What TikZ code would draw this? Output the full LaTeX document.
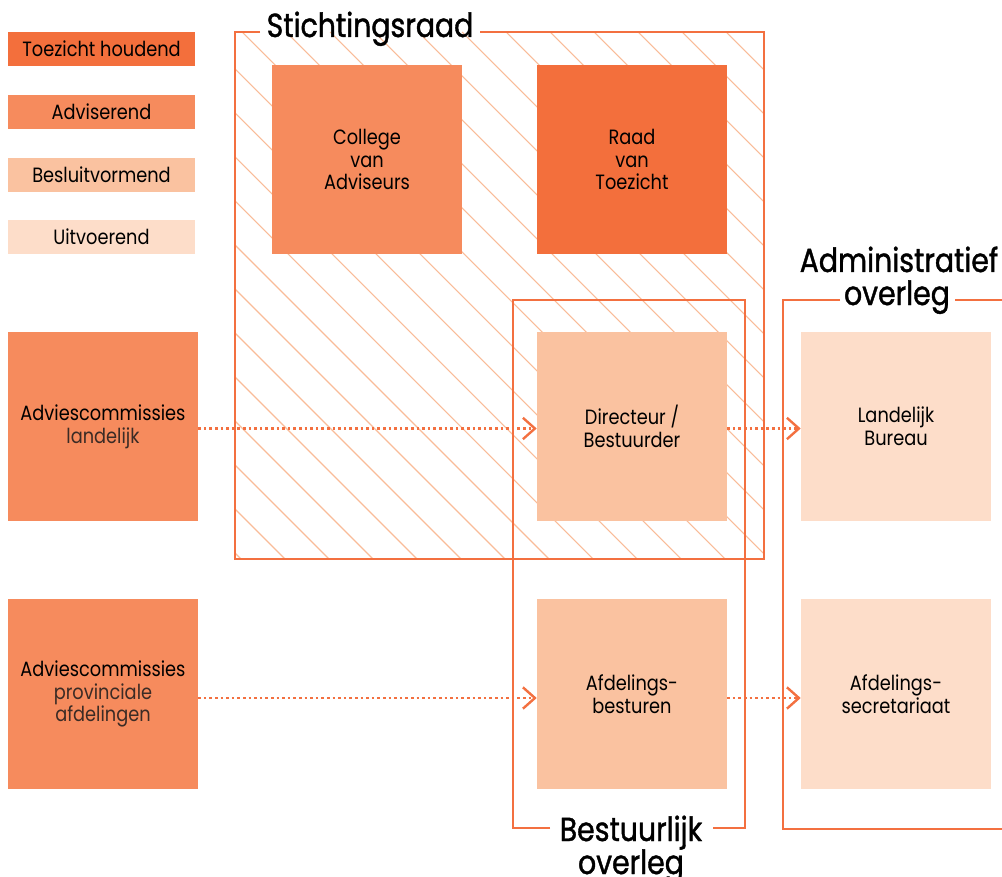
\documentclass[tikz,border=0pt]{standalone}
\usepackage{fontspec}
\setmainfont{Poppins}[FakeStretch=0.86]
\newfontfamily\titlefamily{Poppins}[FakeStretch=0.85, FakeBold=1.2]
\usetikzlibrary{arrows.meta}
\definecolor{toez}{HTML}{F36F3C}
\definecolor{advi}{HTML}{F68B5D}
\definecolor{besl}{HTML}{FAC2A0}
\definecolor{uitv}{HTML}{FDDDC9}
\definecolor{framec}{HTML}{F37040}
\definecolor{hatchc}{HTML}{F9BC98}
\definecolor{subtext}{HTML}{3B2B25}
\begin{document}
\begin{tikzpicture}[x=0.75pt,y=-0.75pt,
  boxtext/.style={font=\fontsize{15.5pt}{17pt}\selectfont, text=black, align=center},
  bigbox/.style={boxtext, inner sep=0pt, minimum width=142.5pt, minimum height=142pt},
  legendbox/.style={boxtext, inner sep=0pt, minimum width=140.25pt, minimum height=25.5pt},
  frameline/.style={draw=framec, line width=2.2pt},
  hatchline/.style={draw=hatchc, line width=0.8pt},
  titletext/.style={font=\titlefamily\fontsize{25pt}{25pt}\selectfont, text=black, anchor=base, inner sep=0pt},
  dotarrow/.style={draw=framec, line width=1.9pt, dash pattern=on 1.9pt off 2.3pt,
    -{Straight Barb[length=9pt, width=16pt, line width=1.8pt]}},
  sub/.style={text=subtext}]
\useasboundingbox (0,0) rectangle (1002,877);
\fill[white] (0,0) rectangle (1002,877);

% legend
\node[legendbox, fill=toez] (lg1) at (101.5,49) {Toezicht houdend};
\node[legendbox, fill=advi] (lg2) at (101.5,112) {Adviserend};
\node[legendbox, fill=besl] (lg3) at (101.5,175) {Besluitvormend};
\node[legendbox, fill=uitv] (lg4) at (101.5,237) {Uitvoerend};

% hatch of Stichtingsraad
\begin{scope}
  \clip (235,32) rectangle (764,559);
  \foreach \k in {-8,...,17} {
    \pgfmathsetmacro\cc{-10+44*\k}
    \draw[hatchline] ({32+\cc},32) -- ({559+\cc},559);
  }
\end{scope}

% Stichtingsraad frame
\draw[frameline] (260,32) -- (235,32) -- (235,559) -- (764,559) -- (764,32) -- (480,32);
\node[titletext] (tstich) at (370,37) {Stichtingsraad};

% boxes
\node[bigbox, fill=advi] (cva) at (367,159.5) {College\\van\\Adviseurs};
\node[bigbox, fill=toez] (rvt) at (632,159.5) {Raad\\van\\Toezicht};
\node[bigbox, fill=besl] (dir) at (632,426.5) {Directeur /\\Bestuurder};
\node[bigbox, fill=besl] (afb) at (632,694) {Afdelings-\\besturen};
\node[bigbox, fill=uitv] (lb) at (896,426.5) {Landelijk\\Bureau};
\node[bigbox, fill=uitv] (afs) at (896,694) {Afdelings-\\secretariaat};
\node[bigbox, fill=advi] (acl) at (103,426.5) {Adviescommissies\\{\color{subtext}landelijk}};
\node[bigbox, fill=advi] (acp) at (103,694) {Adviescommissies\\{\color{subtext}provinciale}\\{\color{subtext}afdelingen}};

% arrows
\draw[dotarrow] ([yshift=-1.5pt]acl.east) -- ([yshift=-1.5pt]dir.west);
\draw[dotarrow] ([yshift=-1.5pt]dir.east) -- ([yshift=-1.5pt]lb.west);
\draw[dotarrow] ([yshift=-3pt]acp.east) -- ([yshift=-3pt]afb.west);
\draw[dotarrow] ([yshift=-3pt]afb.east) -- ([yshift=-3pt]afs.west);

% Bestuurlijk overleg frame
\draw[frameline] (550,828) -- (513,828) -- (513,300) -- (745,300) -- (745,828) -- (713,828);
\node[titletext] (tbest1) at (631,841) {Bestuurlijk};
\node[titletext] (tbest2) at (631,874) {overleg};

% Administratief overleg frame
\draw[frameline] (840,300) -- (783,300) -- (783,829) -- (1002,829);
\draw[frameline] (955,300) -- (1002,300);
\node[titletext] (tadm1) at (899,272) {Administratief};
\node[titletext] (tadm2) at (897,305) {overleg};
\end{tikzpicture}
\end{document}
